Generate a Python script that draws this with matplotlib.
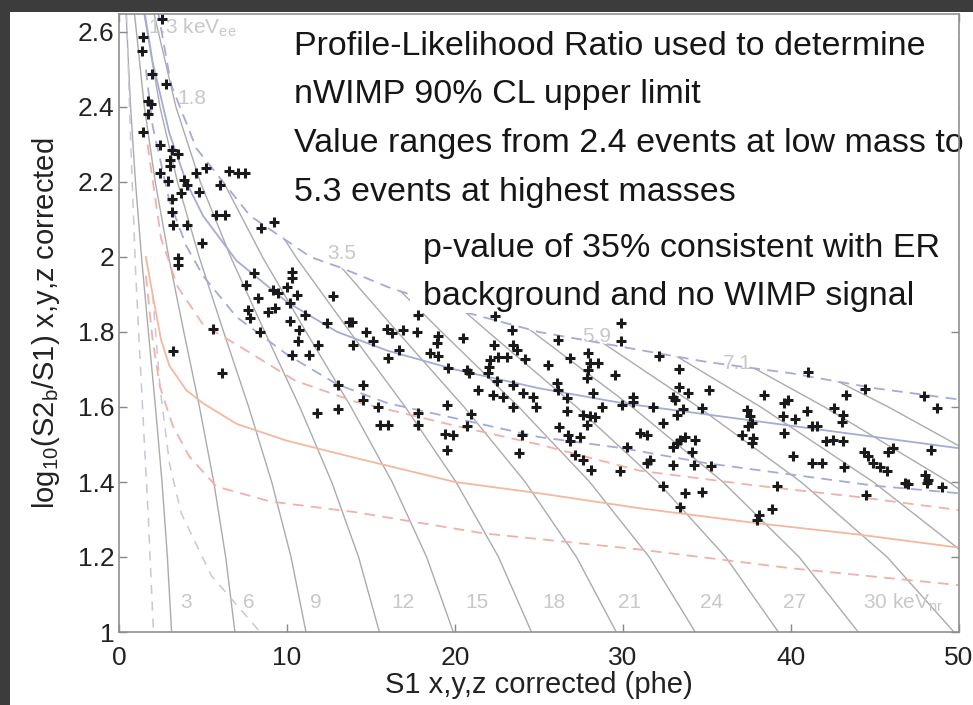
import matplotlib
matplotlib.use("Agg")
import matplotlib.pyplot as plt
from matplotlib.patches import Rectangle, Polygon

plt.rcParams["font.family"] = ["Liberation Sans", "DejaVu Sans"]
plt.rcParams["mathtext.fontset"] = "custom"
plt.rcParams["mathtext.rm"] = "Liberation Sans"
plt.rcParams["mathtext.it"] = "Liberation Sans"

# ---- WIMP-search events (S1, log10 S2b/S1) ----
s1_events = [2.53, 1.41, 1.37, 1.95, 2.80, 1.71, 1.89, 1.71, 1.41, 2.44, 3.13, 3.53, 3.04, 3.04, 2.44,
             5.18, 4.58, 2.94, 3.87, 4.07, 6.57, 7.1, 7.5, 6.01, 4.78, 3.67, 3.13, 3.13, 5.77, 6.31,
             3.19, 4.07, 8.43, 9.23, 4.92, 3.53, 3.53, 8.04, 7.56, 10.28, 10.28, 10.0, 8.29, 9.19, 9.48,
             8.89, 9.29, 10.18, 10.58, 11.07, 7.70, 7.8, 10.18, 10.73, 5.61, 3.19, 6.11, 10.28, 11.33,
             10.67, 11.86, 13.95, 13.06, 11.76, 13.06, 8.39, 12.76, 12.36, 13.71,
             17.82, 13.85, 14.70, 15.14, 15.93, 16.23, 16.89, 17.72, 16.69, 16.03, 19.01, 18.95, 18.51,
             19.0, 20.5, 19.6, 20.73, 20.85, 22.32, 23.37, 22.38, 23.47, 23.67, 22.08, 22.04, 21.98,
             22.58, 23.08, 24.17, 22.48, 21.39, 22.24, 22.87, 23.47, 24.07, 24.62, 23.47, 24.82, 25.55,
             26.15, 26.85, 26.05, 26.15, 26.69, 27.93, 28.04, 28.53, 27.93, 27.84, 28.23, 29.52, 29.86,
             29.86, 26.65, 27.64, 28.04, 28.33, 27.87, 28.73, 30.61, 30.61, 29.92, 26.22, 26.75, 26.85,
             27.44, 27.14, 27.64, 28.08, 29.82, 30.22, 31.0, 31.41, 31.41, 14.54, 14.54, 15.43, 15.54,
             16.03, 17.82, 17.82, 19.5, 19.4, 19.9, 19.5, 20.93, 20.69, 23.97, 23.83,
             32.16, 33.35, 33.35, 33.89, 32.96, 33.1, 35.14, 31.77, 33.59, 34.68, 33.2, 32.36, 33.0,
             33.2, 33.39, 33.69, 34.29, 34.09, 31.6, 32.96, 34.23, 35.22, 32.36, 33.69, 34.68, 33.39,
             37.4, 37.56, 37.66, 37.46, 37.06, 37.76, 37.66, 38.39, 39.18, 37.95, 38.11, 38.85, 39.6,
             39.84, 41.03, 40.93, 39.54, 40.24, 39.58, 41.23, 41.53, 40.1, 41.23, 41.83, 43.3, 44.4,
             42.56, 43.11, 43.02, 42.08, 42.52, 43.11, 43.15, 44.35, 44.6, 44.9, 45.3, 45.7, 45.79,
             46.09, 44.46, 46.79, 46.98, 47.98, 48.08, 48.17, 48.97, 47.92, 48.67, 48.31]
log_events = [2.634, 2.586, 2.549, 2.488, 2.461, 2.417, 2.408, 2.381, 2.332, 2.299, 2.285, 2.275, 2.259,
              2.243, 2.225, 2.237, 2.223, 2.203, 2.205, 2.192, 2.228, 2.223, 2.223, 2.192, 2.172, 2.170,
              2.154, 2.119, 2.112, 2.112, 2.085, 2.085, 2.076, 2.094, 2.036, 1.997, 1.979, 1.956, 1.925,
              1.961, 1.943, 1.919, 1.890, 1.912, 1.905, 1.854, 1.863, 1.877, 1.899, 1.845, 1.859, 1.837,
              1.828, 1.805, 1.807, 1.750, 1.690, 1.739, 1.739, 1.777, 1.765, 1.765, 1.659, 1.583, 1.594,
              1.801, 1.896, 1.825, 1.827,
              1.845, 1.827, 1.801, 1.777, 1.807, 1.797, 1.805, 1.801, 1.752, 1.730, 1.789, 1.771, 1.743,
              1.736, 1.783, 1.703, 1.699, 1.690, 1.765, 1.804, 1.843, 1.765, 1.752, 1.725, 1.707, 1.690,
              1.734, 1.733, 1.729, 1.668, 1.645, 1.632, 1.626, 1.659, 1.637, 1.626, 1.601, 1.599, 1.712,
              1.779, 1.730, 1.664, 1.644, 1.623, 1.743, 1.716, 1.716, 1.699, 1.677, 1.637, 1.685, 1.825,
              1.777, 1.588, 1.579, 1.575, 1.573, 1.553, 1.599, 1.628, 1.614, 1.605, 1.546, 1.525, 1.508,
              1.519, 1.472, 1.459, 1.432, 1.428, 1.494, 1.530, 1.525, 1.450, 1.659, 1.619, 1.601, 1.552,
              1.552, 1.583, 1.552, 1.605, 1.528, 1.525, 1.485, 1.581, 1.549, 1.525, 1.477,
              1.736, 1.701, 1.653, 1.637, 1.628, 1.619, 1.644, 1.599, 1.594, 1.597, 1.579, 1.557, 1.494,
              1.503, 1.512, 1.519, 1.512, 1.481, 1.459, 1.445, 1.445, 1.443, 1.389, 1.370, 1.374, 1.334,
              1.592, 1.575, 1.557, 1.549, 1.525, 1.517, 1.503, 1.632, 1.389, 1.299, 1.312, 1.327, 1.611,
              1.619, 1.694, 1.588, 1.575, 1.567, 1.530, 1.549, 1.549, 1.469, 1.450, 1.450, 1.632, 1.647,
              1.597, 1.579, 1.559, 1.508, 1.512, 1.508, 1.439, 1.481, 1.468, 1.450, 1.441, 1.428, 1.481,
              1.490, 1.365, 1.397, 1.395, 1.419, 1.397, 1.405, 1.388, 1.629, 1.597, 1.485]

# ---- ER band (median and 10%/90%) ----
er_mid_s1 = [1.5, 2, 3, 4, 5, 7, 10, 13, 16, 20, 25, 30, 35, 40, 45, 50]
er_mid_y = [2.66, 2.52, 2.33, 2.2, 2.11, 1.99, 1.88, 1.8, 1.75, 1.70, 1.65, 1.61, 1.58, 1.55, 1.52, 1.49]
er_hi_s1 = [2.3, 3.1, 4.6, 7.8, 11.4, 13.3, 16, 20, 25, 30, 35, 40, 45, 50]
er_hi_y = [2.66, 2.46, 2.29, 2.11, 2.0, 1.97, 1.92, 1.86, 1.8, 1.76, 1.72, 1.69, 1.65, 1.62]
er_lo_s1 = [1.6, 2, 3, 4, 5, 7, 10, 13, 16, 20, 25, 30, 35, 40, 45, 50]
er_lo_y = [2.5, 2.35, 2.15, 2.03, 1.95, 1.84, 1.74, 1.66, 1.61, 1.57, 1.52, 1.49, 1.45, 1.42, 1.39, 1.37]

# ---- NR band ----
nr_mid_s1 = [1.6, 2.0, 2.5, 3, 4, 5, 7, 10, 14, 20, 25, 31, 38, 44, 50]
nr_mid_y = [2.0, 1.9, 1.78, 1.71, 1.645, 1.61, 1.555, 1.51, 1.465, 1.40, 1.37, 1.33, 1.29, 1.26, 1.225]
nr_hi_s1 = [1.7, 2.5, 3.5, 5, 7.6, 10.5, 14, 20, 25, 31, 38, 44, 50]
nr_hi_y = [2.3, 2.05, 1.92, 1.82, 1.75, 1.67, 1.615, 1.55, 1.5, 1.43, 1.39, 1.36, 1.325]
nr_lo_s1 = [1.6, 2.0, 2.44, 3.2, 4.2, 5.8, 9, 14, 21.7, 31, 40, 50]
nr_lo_y = [1.95, 1.78, 1.654, 1.55, 1.467, 1.388, 1.348, 1.32, 1.263, 1.22, 1.17, 1.125]

# ---- constant-energy contours (keVnr), S1 at each log level ----
contour_y = [1.0, 1.2, 1.4, 1.6, 1.8, 2.0, 2.2, 2.4, 2.65]
kevnr_s1 = [
    [3.13, 2.88, 2.56, 2.17, 1.75, 1.34, 0.98, 0.69, 0.42],
    [6.9, 6.35, 5.64, 4.79, 3.86, 2.96, 2.16, 1.51, 0.92],
    [11.13, 10.24, 9.09, 7.72, 6.23, 4.77, 3.48, 2.44, 1.49],
    [15.5, 14.26, 12.66, 10.76, 8.68, 6.65, 4.84, 3.39, 2.08],
    [19.9, 18.31, 16.26, 13.81, 11.14, 8.54, 6.22, 4.36, 2.67],
    [24.55, 22.59, 20.06, 17.04, 13.75, 10.53, 7.67, 5.38, 3.29],
    [29.6, 27.23, 24.18, 20.54, 16.58, 12.7, 9.25, 6.48, 3.97],
    [34.3, 31.56, 28.02, 23.8, 19.21, 14.71, 10.72, 7.51, 4.6],
    [39.25, 36.11, 32.07, 27.24, 21.98, 16.84, 12.27, 8.6, 5.26],
    [44.0, 40.48, 35.95, 30.54, 24.64, 18.88, 13.75, 9.64, 5.9],
    [49.7, 45.72, 40.6, 34.49, 27.83, 21.32, 15.53, 10.88, 6.66],
    [55.0, 50.6, 44.9, 38.2, 30.8, 23.6, 17.2, 12.0, 7.4],
    [60.5, 55.7, 49.4, 42.0, 33.9, 26.0, 18.9, 13.2, 8.1],
    [66.0, 60.7, 53.9, 45.8, 37.0, 28.3, 20.6, 14.5, 8.8],
]
# dashed keVee contours at low S1
kevee_s1 = [
    [0.45, 0.7, 1.0, 1.4, 1.75, 2.05],
    [2.0, 2.44, 3.0, 3.7, 5.5, 8.4],
]
kevee_y = [
    [2.648, 2.3, 1.95, 1.6, 1.3, 1.0],
    [1.9, 1.654, 1.45, 1.317, 1.15, 1.0],
]
kevnr_labels = ["3", "6", "9", "12", "15", "18", "21", "24", "27", "30 keV$_{nr}$"]
kevnr_label_s1 = [3.63, 7.4, 11.37, 16.23, 20.6, 25.2, 29.7, 34.58, 39.5, 44.3]
kevee_labels = ["1.3 keV$_{ee}$", "1.8", "3.5", "5.9", "7.1"]
kevee_label_s1 = [1.73, 4.35, 13.27, 28.45, 36.8]
kevee_label_y = [2.61, 2.424, 2.008, 1.789, 1.717]

note_lines = ["Profile-Likelihood Ratio used to determine",
              "nWIMP 90% CL upper limit",
              "Value ranges from 2.4 events at low mass to",
              "5.3 events at highest masses"]
note_y = [2.539, 2.411, 2.28, 2.149]
pval_lines = ["p-value of 35% consistent with ER", "background and no WIMP signal"]
pval_y = [2.0, 1.872]

W, H = 973, 705
fig = plt.figure(figsize=(W / 100, H / 100), dpi=100, facecolor="#3c3c3c")
fig.add_artist(Rectangle((10 / W, 0), 1, (H - 12) / H, transform=fig.transFigure,
                         facecolor="white", edgecolor="none", zorder=-10))
ax = fig.add_axes([119 / W, 73 / H, 840 / W, 618 / H])
ax.set_zorder(1)

# energy contours only run up to the upper edge of the ER band
below_er = Polygon([(-1, 0.9), (-1, 2.7), (er_hi_s1[0], 2.7)]
                   + list(zip(er_hi_s1, er_hi_y)) + [(51, er_hi_y[-1]), (51, 0.9)],
                   closed=True, transform=ax.transData)

grey = "#ababab"
for xs in kevnr_s1:
    ln, = ax.plot(xs, contour_y, color=grey, lw=1.0, zorder=1)
    ln.set_clip_path(below_er)
for xs, ys in zip(kevee_s1, kevee_y):
    ax.plot(xs, ys, color="#c6c8d8", lw=1.1, ls=(0, (6, 5)), zorder=1)
for lab, xl in zip(kevnr_labels, kevnr_label_s1):
    ax.text(xl, 1.078, lab, color="#c8c8c8", fontsize=15, ha="left", va="center", zorder=2)
for lab, xl, yl in zip(kevee_labels, kevee_label_s1, kevee_label_y):
    ax.text(xl, yl, lab, color="#c8c8c8", fontsize=15, ha="center" if xl > 3 else "left",
            va="center", zorder=2)

blue = "#a6aad8"
ax.plot(er_mid_s1, er_mid_y, color=blue, lw=1.3, zorder=2)
ax.plot(er_hi_s1, er_hi_y, color=blue, lw=1.3, ls=(0, (6, 4)), zorder=2)
ax.plot(er_lo_s1, er_lo_y, color=blue, lw=1.3, ls=(0, (6, 4)), zorder=2)
ax.plot(nr_mid_s1, nr_mid_y, color="#f4b89e", lw=1.3, zorder=2)
ax.plot(nr_hi_s1, nr_hi_y, color="#f2b0ac", lw=1.3, ls=(0, (6, 4)), zorder=2)
ax.plot(nr_lo_s1, nr_lo_y, color="#f2b0ac", lw=1.3, ls=(0, (6, 4)), zorder=2)

# white text panels laid over the curves
ax.add_patch(Rectangle((9.6, 2.112), 40.4, 0.6, facecolor="white", edgecolor="none", zorder=3))
ax.add_patch(Rectangle((17.3, 1.85), 32.7, 0.3, facecolor="white", edgecolor="none", zorder=3))

ax.plot(s1_events, log_events, ls="none", marker="+", ms=6.5, mew=2.2, color="#1a1a1a", zorder=4)

txt = dict(fontsize=24.5, color="#161616", ha="left", va="baseline", zorder=5)
for line, yl in zip(note_lines, note_y):
    ax.text(10.42, yl, line, **txt)
for line, yl in zip(pval_lines, pval_y):
    ax.text(18.1, yl, line, **txt)

ax.set_xlim(0, 50)
ax.set_ylim(1, 2.648)
ax.set_xticks([0, 10, 20, 30, 40, 50])
ax.set_yticks([1, 1.2, 1.4, 1.6, 1.8, 2, 2.2, 2.4, 2.6])
ax.set_yticklabels(["1", "1.2", "1.4", "1.6", "1.8", "2", "2.2", "2.4", "2.6"])
ax.tick_params(direction="in", length=6, width=1, colors="#888888", labelcolor="#222222",
               labelsize=19, top=True, right=True)
ax.tick_params(axis="x", pad=10)
for sp in ax.spines.values():
    sp.set_color("#909090")
    sp.set_linewidth(1.2)
    sp.set_zorder(6)
ax.set_xlabel("S1 x,y,z corrected (phe)", fontsize=21, color="#222222", labelpad=1)
ax.set_ylabel("log$_{10}$(S2$_b$/S1) x,y,z corrected", fontsize=21, color="#222222", labelpad=11)

fig.savefig("out.png", dpi=100, facecolor=fig.get_facecolor())
